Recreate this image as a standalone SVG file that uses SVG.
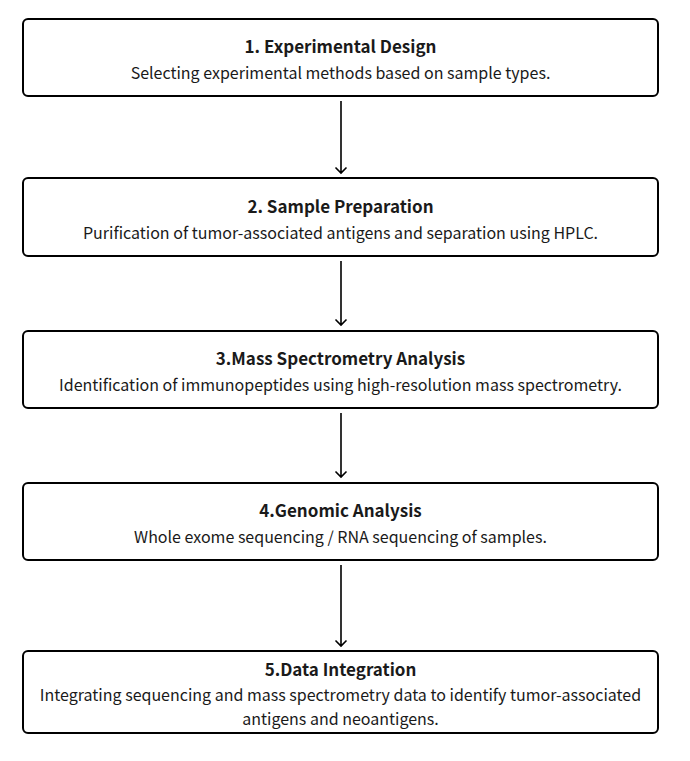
<svg xmlns="http://www.w3.org/2000/svg" width="690" height="761" viewBox="0 0 690 761">
<defs>
<style>
.box{fill:#fff;stroke:#000;stroke-width:2}
.t{font-family:"Noto Sans CJK SC","Noto Sans",sans-serif;font-weight:700;font-size:17px;fill:#1a1a1a;text-anchor:middle}
.s{font-family:"Noto Sans CJK SC","Noto Sans",sans-serif;font-size:16px;fill:#1a1a1a;text-anchor:middle}
.c{stroke:#000;stroke-width:1.6;fill:none}
</style>
</defs>
<rect width="690" height="761" fill="#fff"/>
<g id="connectors">
<g class="c">
<path d="M341 101V173M335.5 167.5L341 173L346.5 167.5"/>
<path d="M341 261V325M335.5 319.5L341 325L346.5 319.5"/>
<path d="M341 413V477M335.5 471.5L341 477L346.5 471.5"/>
<path d="M341 565V646M335.5 640.5L341 646L346.5 640.5"/>
</g>
</g>
<g id="n1">
<rect class="box" x="23" y="19" width="635" height="77" rx="5"/>
<text class="t" x="340.5" y="53">1. Experimental Design</text>
<text class="s" x="340.5" y="79">Selecting experimental methods based on sample types.</text>
</g>
<g id="n2">
<rect class="box" x="23" y="178" width="635" height="78" rx="5"/>
<text class="t" x="340.5" y="213">2. Sample Preparation</text>
<text class="s" x="340.5" y="239">Purification of tumor-associated antigens and separation using HPLC.</text>
</g>
<g id="n3">
<rect class="box" x="23" y="331" width="635" height="77" rx="5"/>
<text class="t" x="340.5" y="365">3.Mass Spectrometry Analysis</text>
<text class="s" x="340.5" y="391">Identification of immunopeptides using high-resolution mass spectrometry.</text>
</g>
<g id="n4">
<rect class="box" x="23" y="483" width="635" height="77" rx="5"/>
<text class="t" x="340.5" y="517">4.Genomic Analysis</text>
<text class="s" x="340.5" y="543">Whole exome sequencing / RNA sequencing of samples.</text>
</g>
<g id="n5">
<rect class="box" x="23" y="651" width="635" height="82" rx="5"/>
<text class="t" x="340.5" y="676">5.Data Integration</text>
<text class="s" x="340.5" y="701">Integrating sequencing and mass spectrometry data to identify tumor-associated</text>
<text class="s" x="340.5" y="725">antigens and neoantigens.</text>
</g>
</svg>
